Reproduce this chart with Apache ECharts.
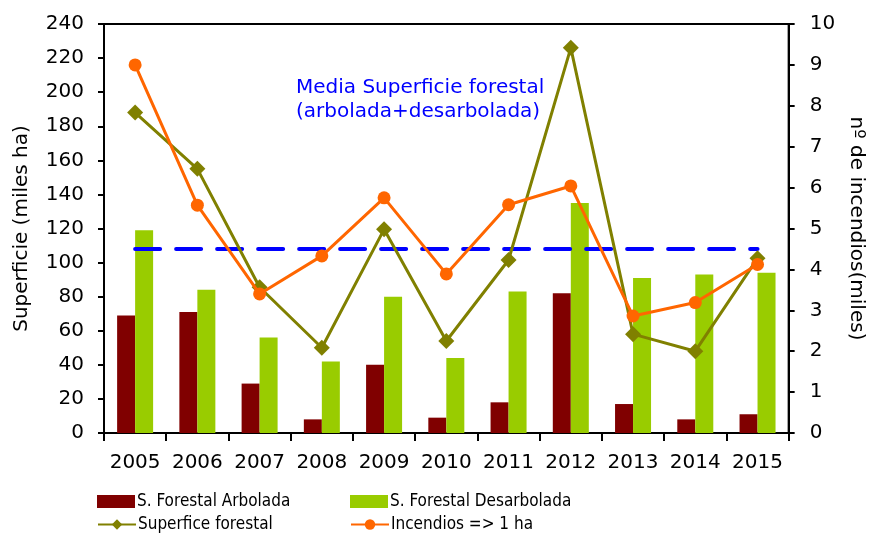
<!DOCTYPE html>
<html>
<head>
<meta charset="utf-8">
<script src="https://cdn.jsdelivr.net/npm/echarts@6/dist/echarts.min.js"></script>
<style>html,body{margin:0;padding:0;background:#fff}#c{width:874px;height:535px}</style>
</head>
<body>
<div id="c"></div>
<script>
var years = ['2005','2006','2007','2008','2009','2010','2011','2012','2013','2014','2015'];
var arbolada = [69, 71, 29, 8, 40, 9, 18, 82, 17, 8, 11];
var desarbolada = [119, 84, 56, 42, 80, 44, 83, 135, 91, 93, 94];
var superficie = [188, 155, 85.5, 50, 119.5, 54, 101.5, 226, 58, 48, 102.5];
var incendios = [9.0, 5.57, 3.4, 4.33, 5.75, 3.89, 5.58, 6.04, 2.86, 3.19, 4.12];
var mediaSuperficie = [108, 108, 108, 108, 108, 108, 108, 108, 108, 108, 108];
var leftTicks = {min: 0, max: 240, interval: 20};
var rightTicks = {min: 0, max: 10, interval: 1};

var FONT = 'DejaVu Sans';
var LFONT = '"DejaVu Sans Condensed"';
var chart = echarts.init(document.getElementById('c'), null, {renderer: 'canvas'});
function leg(name, left, top, icon) {
  var l = {
    data: [name], left: left, top: top, orient: 'horizontal',
    itemWidth: 38, itemHeight: 13, itemGap: 0, padding: 0,
    textStyle: {fontFamily: LFONT + ', "Liberation Sans", sans-serif', fontSize: 17, color: '#000', padding: [0,0,0,-3]},
    selectedMode: false
  };
  if (icon) l.icon = icon;
  return l;
}
chart.setOption({
  animation: false,
  backgroundColor: '#fff',
  textStyle: {fontFamily: FONT},
  title: {
    text: 'Media Superficie forestal\n(arbolada+desarbolada)',
    left: 296, top: 76, padding: 0,
    textStyle: {color: '#0000FF', fontSize: 20, fontWeight: 'normal', fontFamily: FONT, lineHeight: 24}
  },
  grid: {left: 104, right: 64, top: 24, bottom: 102, show: true, borderColor: '#000', borderWidth: 2, backgroundColor: 'transparent'},
  legend: [
    leg('S. Forestal Arbolada', 97, 493, 'rect'),
    leg('S. Forestal Desarbolada', 350, 493, 'rect'),
    leg('Superfice forestal', 97, 516),
    leg('Incendios => 1 ha', 350, 516)
  ],
  xAxis: {
    type: 'category', data: years,
    axisLine: {lineStyle: {color: '#000', width: 2}},
    axisTick: {show: true, length: 8, lineStyle: {color: '#000', width: 2}},
    axisLabel: {color: '#000', fontSize: 20, fontFamily: FONT, margin: 20, interval: 0}
  },
  yAxis: [{
    type: 'value', min: leftTicks.min, max: leftTicks.max, interval: leftTicks.interval,
    name: 'Superficie (miles ha)', nameLocation: 'middle', nameGap: 72, nameRotate: 90,
    nameTextStyle: {color: '#000', fontSize: 20, fontFamily: FONT},
    axisLine: {show: true, lineStyle: {color: '#000', width: 2}},
    axisTick: {show: true, length: 6, lineStyle: {color: '#000', width: 2}},
    axisLabel: {color: '#000', fontSize: 20, fontFamily: FONT, margin: 20},
    splitLine: {show: false}
  }, {
    type: 'value', min: rightTicks.min, max: rightTicks.max, interval: rightTicks.interval,
    name: 'nº de incendios(miles)', nameLocation: 'middle', nameGap: 52, nameRotate: -90,
    nameTextStyle: {color: '#000', fontSize: 20, fontFamily: FONT},
    axisLine: {show: true, lineStyle: {color: '#000', width: 2}},
    axisTick: {show: true, length: 6, lineStyle: {color: '#000', width: 2}},
    axisLabel: {color: '#000', fontSize: 20, fontFamily: FONT, margin: 21},
    splitLine: {show: false}
  }],
  series: [{
    name: 'S. Forestal Arbolada', type: 'bar', data: arbolada, barWidth: 18, barGap: '0%',
    itemStyle: {color: '#800000'}
  }, {
    name: 'S. Forestal Desarbolada', type: 'bar', data: desarbolada, barWidth: 18, barGap: '0%',
    itemStyle: {color: '#99CC00'}
  }, {
    name: 'Media', type: 'line', data: mediaSuperficie, symbol: 'none',
    lineStyle: {color: '#0000FF', width: 4, type: [25, 16], cap: 'round'}, z: 3
  }, {
    name: 'Superfice forestal', type: 'line', data: superficie, symbol: 'diamond', symbolSize: 16,
    itemStyle: {color: '#808000'}, lineStyle: {color: '#808000', width: 3}, z: 4
  }, {
    name: 'Incendios => 1 ha', type: 'line', data: incendios, yAxisIndex: 1, symbol: 'circle', symbolSize: 13,
    itemStyle: {color: '#FF6600'}, lineStyle: {color: '#FF6600', width: 3}, z: 5
  }]
});
</script>
</body>
</html>
